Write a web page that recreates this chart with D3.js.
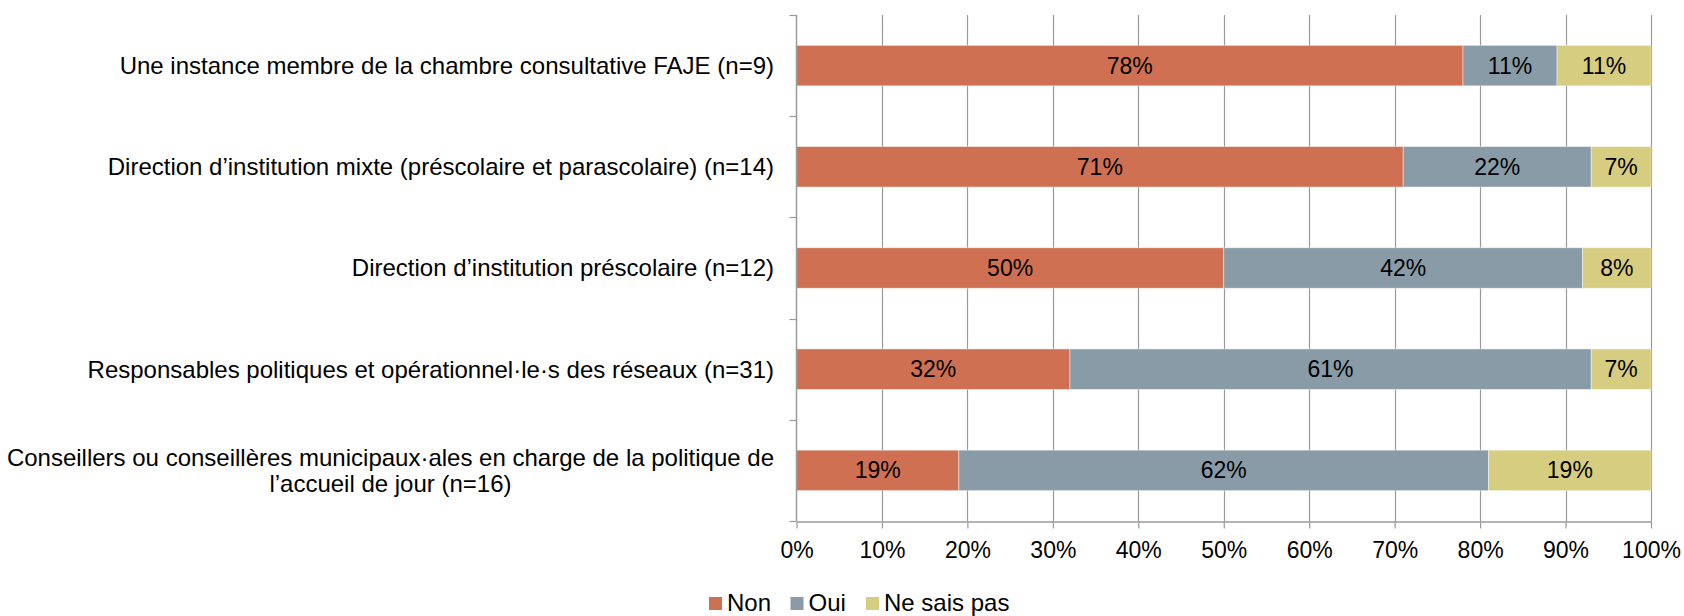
<!DOCTYPE html>
<html>
<head>
<meta charset="utf-8">
<script src="https://cdn.jsdelivr.net/npm/d3@7"></script>
<style>
  body { margin: 0; background: #fff; }
  svg text { font-family: "Liberation Sans", Arial, sans-serif; fill: #000; }
</style>
</head>
<body>
<svg id="chart" width="1684" height="616"></svg>
<script>
var categories = [
    "Une instance membre de la chambre consultative FAJE (n=9)",
    "Direction d\u2019institution mixte (préscolaire et parascolaire) (n=14)",
    "Direction d\u2019institution préscolaire (n=12)",
    "Responsables politiques et opérationnel·le·s des réseaux (n=31)",
    "Conseillers ou conseillères municipaux·ales en charge de la politique de\nl\u2019accueil de jour (n=16)"
];
var seriesNames = ["Non", "Oui", "Ne sais pas"];
var nonValues = [78, 71, 50, 32, 19];
var ouiValues = [11, 22, 42, 61, 62];
var nspValues = [11, 7, 8, 7, 19];
var tickValues = [0, 10, 20, 30, 40, 50, 60, 70, 80, 90, 100];
var colors = ["#CF7053", "#889BA6", "#D6CD80"];

var svg = d3.select("#chart");
var margin = {left: 796.5, right: 33, top: 15, bottom: 95};
var W = 1684, H = 616;
var fontSize = 23;
var labelSize = 24;

var x = d3.scaleLinear().domain([0, 100]).range([margin.left, W - margin.right]);
var y = d3.scaleBand().domain(d3.range(categories.length)).range([margin.top, H - margin.bottom]).paddingInner(0.6).paddingOuter(0.3);
var yBand = d3.scaleBand().domain(d3.range(categories.length)).range([margin.top, H - margin.bottom]);

var table = categories.map(function(c, i) {
    return {i: i, "Non": nonValues[i], "Oui": ouiValues[i], "Ne sais pas": nspValues[i]};
});
var stacked = d3.stack().keys(seriesNames)(table);

// gridlines
svg.append("g").selectAll("line")
    .data(tickValues.filter(function(d) { return d > 0; }))
    .enter().append("line")
    .attr("x1", function(d) { return Math.round(x(d)) + 0.5; })
    .attr("x2", function(d) { return Math.round(x(d)) + 0.5; })
    .attr("y1", margin.top)
    .attr("y2", H - margin.bottom)
    .attr("stroke", "#9a9a9a")
    .attr("stroke-width", 1.2);

// bars
var layers = svg.append("g").selectAll("g")
    .data(stacked)
    .enter().append("g")
    .attr("fill", function(d, i) { return colors[i]; });

layers.selectAll("rect")
    .data(function(d) { return d; })
    .enter().append("rect")
    .attr("x", function(d) { return x(d[0]); })
    .attr("width", function(d) { return x(d[1]) - x(d[0]); })
    .attr("y", function(d, i) { return y(i); })
    .attr("height", y.bandwidth())
    .attr("stroke", "rgba(255,255,255,0.55)")
    .attr("stroke-width", 0.8);

// value labels
layers.each(function(s) {
    d3.select(this).selectAll("text")
        .data(s)
        .enter().append("text")
        .attr("x", function(d) { return (x(d[0]) + x(d[1])) / 2; })
        .attr("y", function(d, i) { return y(i) + y.bandwidth() / 2; })
        .attr("dy", "0.35em")
        .attr("text-anchor", "middle")
        .style("font-size", fontSize + "px")
        .text(function(d) { return (d[1] - d[0]) + "%"; });
});

// x axis
var xAxis = d3.axisBottom(x).tickValues(tickValues).tickSize(7).tickSizeOuter(0)
    .tickFormat(function(d) { return d + "%"; });
var gx = svg.append("g")
    .attr("transform", "translate(0," + (H - margin.bottom + 0.5) + ")")
    .call(xAxis);
gx.select(".domain").attr("stroke", "#9a9a9a").attr("stroke-width", 1.5);
gx.selectAll(".tick line").attr("stroke", "#9a9a9a").attr("stroke-width", 1.2);
gx.selectAll(".tick text").attr("y", 20).attr("dy", "0.71em")
    .style("font-size", fontSize + "px").attr("fill", "#000");

// y axis (category boundaries)
var gy = svg.append("g");
gy.append("line")
    .attr("x1", margin.left).attr("x2", margin.left)
    .attr("y1", margin.top).attr("y2", H - margin.bottom)
    .attr("stroke", "#9a9a9a").attr("stroke-width", 1.5);
gy.selectAll(".ytick")
    .data(d3.range(categories.length + 1))
    .enter().append("line")
    .attr("x1", margin.left - 7).attr("x2", margin.left)
    .attr("y1", function(d) { return Math.round(margin.top + d * yBand.step()) + 0.5; })
    .attr("y2", function(d) { return Math.round(margin.top + d * yBand.step()) + 0.5; })
    .attr("stroke", "#9a9a9a").attr("stroke-width", 1.2);

// category labels
var labelRight = 774;
var lineH = 26;
categories.forEach(function(c, i) {
    var lines = c.split("\n");
    var cy = yBand(i) + yBand.bandwidth() / 2;
    var t = svg.append("text")
        .style("font-size", labelSize + "px");
    lines.forEach(function(l, j) {
        t.append("tspan")
            .attr("y", cy + (j - (lines.length - 1) / 2) * lineH)
            .attr("dy", "0.35em")
            .text(l);
    });
    if (lines.length == 1) {
        t.attr("text-anchor", "end");
        t.selectAll("tspan").attr("x", labelRight);
    } else {
        var maxW = 0;
        t.selectAll("tspan").each(function() {
            maxW = Math.max(maxW, this.getComputedTextLength());
        });
        t.attr("text-anchor", "middle");
        t.selectAll("tspan").attr("x", labelRight - maxW / 2);
    }
});

// legend
var legendX = [709, 790.5, 866];
var legend = svg.append("g").selectAll("g")
    .data(seriesNames)
    .enter().append("g")
    .attr("transform", function(d, i) { return "translate(" + legendX[i] + ",597)"; });
legend.append("rect")
    .attr("width", 13).attr("height", 13)
    .attr("fill", function(d, i) { return colors[i]; });
legend.append("text")
    .attr("x", 18).attr("y", 13.5)
    .style("font-size", labelSize + "px")
    .text(function(d) { return d; });
</script>
</body>
</html>
